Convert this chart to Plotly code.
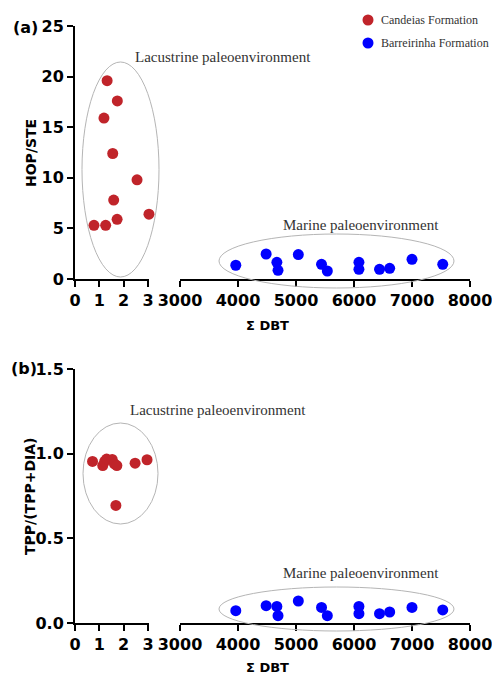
import plotly.graph_objects as go

# ---- data ----
cand_x_a = [0.78, 1.19, 1.26, 1.32, 1.55, 1.59, 1.73, 1.74, 2.55, 3.04]
cand_y_a = [5.3, 15.9, 5.3, 19.6, 12.4, 7.8, 5.9, 17.6, 9.8, 6.4]
cand_x_b = [0.72, 1.14, 1.22, 1.30, 1.53, 1.62, 1.72, 1.68, 2.47, 2.96]
cand_y_b = [0.954, 0.93, 0.955, 0.968, 0.966, 0.94, 0.93, 0.694, 0.944, 0.964]

barr_x = [3962, 4485, 4670, 4690, 5040, 5440, 5540, 6085, 6085, 6440, 6615, 7000, 7530]
barr_y_a = [1.36, 2.47, 1.65, 0.86, 2.41, 1.45, 0.79, 1.65, 0.96, 0.96, 1.06, 1.95, 1.45]
barr_y_b = [0.073, 0.102, 0.098, 0.043, 0.13, 0.092, 0.043, 0.098, 0.055, 0.055, 0.065, 0.092, 0.077]

left_ticks = [0, 1, 2, 3]
right_ticks = [3000, 4000, 5000, 6000, 7000, 8000]
series_names = ["Candeias Formation", "Barreirinha Formation"]

RED = "#c0242a"
BLUE = "#0000ff"
W, H = 492, 676

def px(x):
    return x / W

def py(y):
    return 1 - y / H

fig = go.Figure()

mk = dict(size=11)
fig.add_trace(go.Scatter(x=cand_x_a, y=cand_y_a, mode="markers", name=series_names[0],
                         marker=dict(color=RED, **mk), xaxis="x", yaxis="y", cliponaxis=False))
fig.add_trace(go.Scatter(x=barr_x, y=barr_y_a, mode="markers", name=series_names[1],
                         marker=dict(color=BLUE, **mk), xaxis="x2", yaxis="y2", cliponaxis=False))
fig.add_trace(go.Scatter(x=cand_x_b, y=cand_y_b, mode="markers", name=series_names[0],
                         marker=dict(color=RED, **mk), xaxis="x3", yaxis="y3", cliponaxis=False))
fig.add_trace(go.Scatter(x=barr_x, y=barr_y_b, mode="markers", name=series_names[1],
                         marker=dict(color=BLUE, **mk), xaxis="x4", yaxis="y4", cliponaxis=False))

tickfont = dict(family="DejaVu Sans", size=16, color="black", weight="bold")
axcommon = dict(showline=True, linecolor="black", linewidth=2, ticks="outside", ticklen=6,
                tickwidth=2, tickcolor="black", showgrid=False, zeroline=False, tickfont=tickfont,
                automargin=False, ticklabeloverflow="allow")

top_dom = [py(279), py(26)]
bot_dom = [py(623), py(369)]
# left axis: 0 -> 75px, 3 -> 148px; range runs slightly past 3 so the edge point shows
LEFT_MAX = 3.06
left_dom = [px(75), px(75 + LEFT_MAX * (148 - 75) / 3)]
right_dom = [px(180), px(470)]

fig.update_layout(
    width=W, height=H, margin=dict(l=0, r=0, t=0, b=0, autoexpand=False),
    plot_bgcolor="white", paper_bgcolor="white",
    xaxis=dict(domain=left_dom, range=[0, LEFT_MAX], tickvals=left_ticks, anchor="y", **axcommon),
    yaxis=dict(domain=top_dom, range=[0, 25], dtick=5, anchor="x", **axcommon),
    xaxis2=dict(domain=right_dom, range=[3000, 8000], tickvals=right_ticks, anchor="y2", **axcommon),
    yaxis2=dict(domain=top_dom, range=[0, 25], anchor="x2", visible=False),
    xaxis3=dict(domain=left_dom, range=[0, LEFT_MAX], tickvals=left_ticks, anchor="y3", **axcommon),
    yaxis3=dict(domain=bot_dom, range=[0, 1.5], dtick=0.5, tickformat=".1f", anchor="x3", **axcommon),
    xaxis4=dict(domain=right_dom, range=[3000, 8000], tickvals=right_ticks, anchor="y4", **axcommon),
    yaxis4=dict(domain=bot_dom, range=[0, 1.5], anchor="x4", visible=False),
    showlegend=False,
)

ell = dict(type="circle", xref="paper", yref="paper", line=dict(color="#b5b5b5", width=1))
fig.add_shape(x0=px(82), x1=px(159), y0=py(277), y1=py(62), **ell)
fig.add_shape(x0=px(219), x1=px(454), y0=py(288), y1=py(234), **ell)
fig.add_shape(x0=px(83), x1=px(158), y0=py(524), y1=py(423), **ell)
fig.add_shape(x0=px(219), x1=px(454), y0=py(631), y1=py(587), **ell)

# manual legend (dot + label)
legend_items = [(series_names[0], RED, 20), (series_names[1], BLUE, 43)]
for name, col, yy in legend_items:
    fig.add_shape(type="circle", xref="paper", yref="paper", xsizemode="pixel", ysizemode="pixel",
                  xanchor=px(368), yanchor=py(yy), x0=-5.5, x1=5.5, y0=-5.5, y1=5.5,
                  fillcolor=col, line=dict(width=0))
    fig.add_annotation(xref="paper", yref="paper", showarrow=False, text=name,
                       x=px(379), y=py(yy), xanchor="left", yanchor="middle",
                       font=dict(family="Liberation Serif", size=12, color="#333333"))

serif = dict(family="Liberation Serif", size=15, color="#333333")
bold = dict(family="DejaVu Sans", color="black", weight="bold")
ann = [
    dict(text="Lacustrine paleoenvironment", x=px(223), y=py(57), font=serif),
    dict(text="Marine paleoenvironment", x=px(361), y=py(225), font=serif),
    dict(text="Lacustrine paleoenvironment", x=px(218), y=py(410), font=serif),
    dict(text="Marine paleoenvironment", x=px(361), y=py(573), font=serif),
    dict(text="(a)", x=px(25), y=py(27), font=dict(size=16, **bold)),
    dict(text="(b)", x=px(24), y=py(369), font=dict(size=16, **bold)),
    dict(text="HOP/STE", x=px(31), y=py(153), textangle=-90, font=dict(size=14, **bold)),
    dict(text="TPP/(TPP+DIA)", x=px(30), y=py(497), textangle=-90, font=dict(size=14, **bold)),
    dict(text="Σ DBT", x=px(267), y=py(325), font=dict(size=13, **bold)),
    dict(text="Σ DBT", x=px(267), y=py(667), font=dict(size=13, **bold)),
]
for a in ann:
    fig.add_annotation(xref="paper", yref="paper", showarrow=False, xanchor="center", yanchor="middle", **a)

fig.write_html("out.html")
